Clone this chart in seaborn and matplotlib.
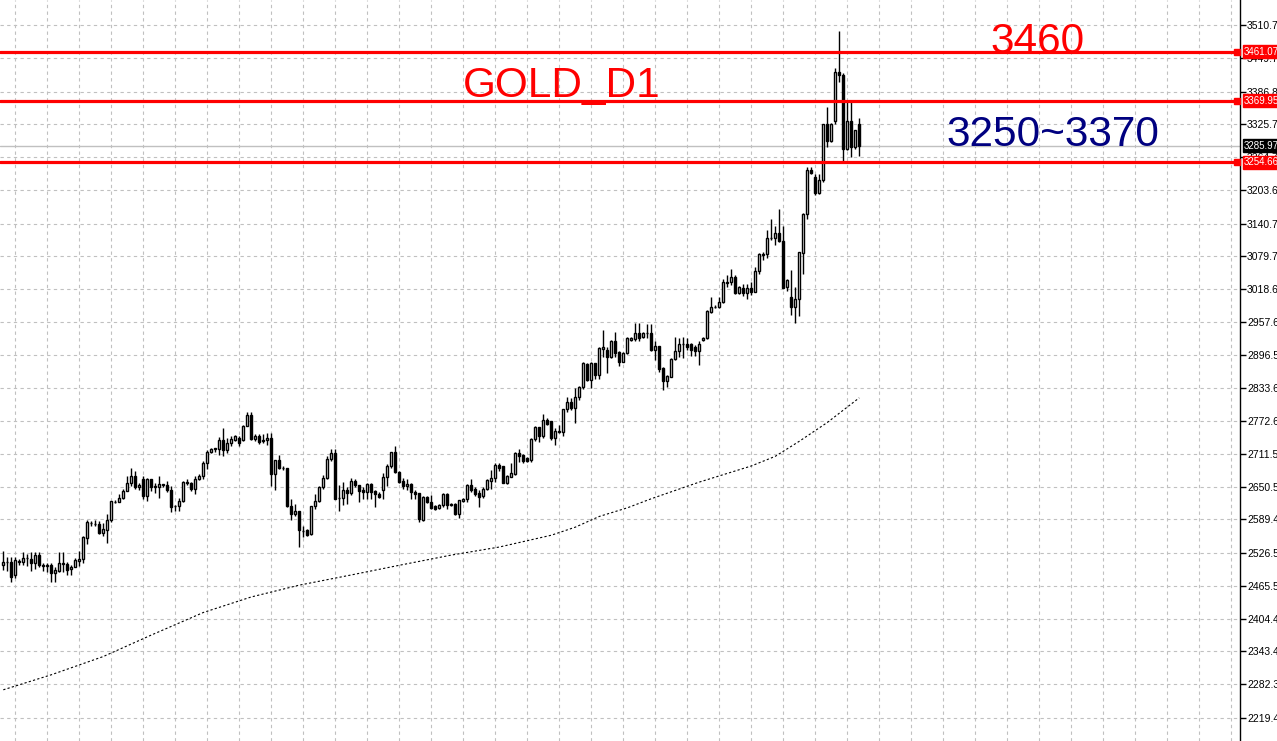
import numpy as np
import pandas as pd
import matplotlib
matplotlib.use("Agg")
import matplotlib.pyplot as plt
import matplotlib.transforms as mtransforms
import seaborn as sns

# ---------------------------------------------------------
# Daily gold candles (oldest first)
# ---------------------------------------------------------
opens = [2505, 2510, 2510, 2485, 2511, 2511, 2517, 2515, 2509, 2523,
         2505, 2503, 2505, 2489, 2494, 2507, 2507, 2498, 2500, 2512,
         2515, 2554, 2583, 2581, 2581, 2565, 2570, 2589, 2622, 2622,
         2630, 2642, 2657, 2671, 2650, 2664, 2633, 2664, 2650, 2650,
         2654, 2653, 2645, 2614, 2614, 2624, 2660, 2657, 2646, 2665,
         2670, 2694, 2716, 2721, 2721, 2738, 2719, 2731, 2738, 2741,
         2738, 2764, 2784, 2739, 2745, 2735, 2737, 2741, 2675, 2700,
         2686, 2686, 2615, 2599, 2605, 2567, 2570, 2563, 2614, 2624,
         2649, 2667, 2702, 2713, 2629, 2630, 2644, 2638, 2661, 2654,
         2644, 2640, 2656, 2642, 2637, 2645, 2669, 2689, 2715, 2678,
         2661, 2651, 2655, 2641, 2638, 2589, 2632, 2621, 2614, 2610,
         2616, 2637, 2617, 2618, 2600, 2624, 2627, 2654, 2646, 2639,
         2633, 2647, 2661, 2666, 2691, 2689, 2658, 2669, 2674, 2714,
         2710, 2703, 2700, 2739, 2761, 2744, 2775, 2772, 2741, 2753,
         2753, 2795, 2809, 2798, 2817, 2836, 2879, 2849, 2880, 2859,
         2907, 2906, 2893, 2921, 2902, 2883, 2900, 2923, 2925, 2937,
         2929, 2936, 2936, 2905, 2913, 2871, 2848, 2855, 2888, 2904,
         2916, 2916, 2916, 2910, 2903, 2924, 2927, 2976, 2985, 2985,
         2995, 3030, 3031, 3041, 3011, 3020, 3012, 3020, 3014, 3053,
         3083, 3084, 3113, 3113, 3124, 3109, 3022, 3003, 2986, 3001,
         3085, 3158, 3240, 3228, 3197, 3221, 3326, 3295, 3331, 3424,
         3418, 3279, 3331, 3283, 3326]
highs = [2531, 2519, 2519, 2519, 2515, 2528, 2525, 2529, 2529, 2529,
         2509, 2508, 2509, 2501, 2528, 2529, 2510, 2504, 2517, 2531,
         2559, 2589, 2587, 2589, 2587, 2583, 2599, 2624, 2626, 2636,
         2647, 2671, 2685, 2679, 2657, 2670, 2667, 2665, 2657, 2670,
         2656, 2661, 2651, 2617, 2630, 2661, 2664, 2659, 2670, 2675,
         2698, 2719, 2723, 2723, 2743, 2760, 2741, 2744, 2747, 2745,
         2766, 2790, 2790, 2748, 2748, 2749, 2750, 2750, 2701, 2710,
         2689, 2686, 2628, 2618, 2605, 2578, 2571, 2615, 2636, 2652,
         2673, 2707, 2721, 2721, 2654, 2659, 2650, 2667, 2664, 2654,
         2650, 2657, 2657, 2645, 2640, 2676, 2692, 2716, 2727, 2680,
         2667, 2664, 2658, 2645, 2639, 2633, 2633, 2635, 2616, 2618,
         2639, 2639, 2620, 2620, 2626, 2629, 2656, 2664, 2650, 2644,
         2649, 2665, 2681, 2695, 2695, 2689, 2672, 2695, 2716, 2721,
         2712, 2705, 2741, 2763, 2762, 2786, 2778, 2772, 2759, 2765,
         2796, 2817, 2815, 2834, 2838, 2883, 2881, 2883, 2881, 2910,
         2942, 2910, 2923, 2939, 2904, 2902, 2929, 2929, 2955, 2955,
         2939, 2954, 2954, 2921, 2913, 2873, 2859, 2890, 2929, 2927,
         2929, 2927, 2918, 2914, 2921, 2929, 2979, 3004, 2989, 3004,
         3037, 3045, 3057, 3045, 3024, 3028, 3029, 3031, 3059, 3085,
         3087, 3129, 3149, 3136, 3167, 3136, 3037, 3054, 3022, 3088,
         3160, 3246, 3247, 3233, 3233, 3327, 3357, 3329, 3430, 3500,
         3421, 3368, 3368, 3316, 3337]
lows = [2496, 2494, 2473, 2480, 2504, 2505, 2503, 2494, 2498, 2500,
        2494, 2491, 2473, 2473, 2492, 2492, 2485, 2486, 2500, 2503,
        2509, 2544, 2578, 2577, 2563, 2559, 2546, 2585, 2620, 2621,
        2627, 2642, 2651, 2647, 2645, 2627, 2624, 2642, 2639, 2630,
        2650, 2640, 2604, 2605, 2605, 2621, 2654, 2642, 2636, 2662,
        2665, 2683, 2713, 2716, 2710, 2707, 2713, 2726, 2735, 2726,
        2736, 2763, 2738, 2735, 2730, 2731, 2729, 2651, 2644, 2683,
        2681, 2612, 2589, 2596, 2538, 2556, 2559, 2561, 2609, 2621,
        2646, 2665, 2698, 2627, 2605, 2617, 2619, 2635, 2650, 2621,
        2628, 2628, 2628, 2613, 2629, 2628, 2652, 2686, 2676, 2658,
        2646, 2645, 2628, 2628, 2584, 2587, 2620, 2609, 2607, 2608,
        2613, 2609, 2614, 2597, 2592, 2622, 2622, 2640, 2634, 2613,
        2630, 2644, 2647, 2659, 2680, 2658, 2655, 2668, 2672, 2697,
        2694, 2697, 2697, 2736, 2734, 2741, 2765, 2737, 2728, 2750,
        2744, 2790, 2793, 2770, 2812, 2832, 2848, 2834, 2852, 2852,
        2893, 2863, 2890, 2893, 2875, 2882, 2898, 2921, 2922, 2922,
        2927, 2927, 2904, 2887, 2865, 2831, 2837, 2854, 2887, 2893,
        2890, 2905, 2894, 2894, 2877, 2922, 2926, 2975, 2983, 2983,
        2993, 3022, 3026, 3010, 3010, 3006, 3001, 3008, 3014, 3047,
        3072, 3076, 3111, 3101, 3107, 3020, 3016, 2970, 2956, 2968,
        3047, 3150, 3233, 3194, 3196, 3219, 3283, 3293, 3326, 3405,
        3258, 3278, 3264, 3279, 3267]
closes = [2511, 2511, 2482, 2513, 2512, 2517, 2518, 2509, 2523, 2504,
          2503, 2505, 2489, 2496, 2508, 2508, 2496, 2500, 2513, 2515,
          2556, 2584, 2582, 2581, 2565, 2571, 2589, 2624, 2622, 2630,
          2642, 2657, 2671, 2650, 2654, 2633, 2664, 2650, 2651, 2656,
          2654, 2644, 2613, 2614, 2624, 2659, 2657, 2646, 2665, 2671,
          2695, 2716, 2721, 2721, 2738, 2719, 2731, 2739, 2744, 2732,
          2764, 2784, 2739, 2745, 2733, 2737, 2741, 2675, 2700, 2686,
          2685, 2615, 2599, 2606, 2570, 2568, 2561, 2614, 2624, 2649,
          2667, 2702, 2713, 2627, 2630, 2644, 2638, 2661, 2653, 2642,
          2640, 2656, 2640, 2636, 2632, 2669, 2689, 2715, 2678, 2659,
          2651, 2655, 2640, 2636, 2590, 2632, 2621, 2610, 2609, 2616,
          2637, 2617, 2618, 2599, 2625, 2627, 2654, 2644, 2637, 2632,
          2647, 2663, 2666, 2691, 2686, 2658, 2670, 2676, 2714, 2708,
          2698, 2699, 2739, 2761, 2744, 2775, 2768, 2741, 2755, 2753,
          2795, 2809, 2798, 2817, 2836, 2880, 2849, 2880, 2859, 2908,
          2910, 2893, 2921, 2900, 2882, 2900, 2927, 2927, 2937, 2927,
          2936, 2936, 2905, 2913, 2869, 2848, 2857, 2888, 2904, 2916,
          2916, 2910, 2905, 2904, 2917, 2927, 2977, 2985, 2986, 2995,
          3031, 3031, 3041, 3011, 3022, 3012, 3020, 3014, 3053, 3084,
          3084, 3113, 3113, 3124, 3109, 3020, 3036, 2986, 3001, 3087,
          3159, 3240, 3235, 3197, 3222, 3326, 3295, 3327, 3424, 3418,
          3279, 3331, 3283, 3315, 3286]

# 200-day moving average, read at a few candles
ma_idx = [0, 12, 25, 37, 50, 62, 74, 87, 99, 112, 124, 137, 143, 149, 156,
          162, 174, 187, 193, 199, 206, 210, 214]
ma_vals = [2272, 2300, 2334, 2374, 2416, 2445, 2467, 2486, 2504, 2523, 2538,
           2560, 2575, 2595, 2611, 2628, 2659, 2689, 2707, 2735, 2770, 2793,
           2816]

price_ticks = [3510.75, 3449.70, 3386.80, 3325.75, 3264.70, 3203.65, 3140.75,
               3079.70, 3018.65, 2957.60, 2896.55, 2833.65, 2772.60, 2711.55,
               2650.50, 2589.45, 2526.55, 2465.50, 2404.45, 2343.40, 2282.35,
               2219.45]
levels = [3461.07, 3369.95, 3254.66]
last_price = 3285.97

df = pd.DataFrame({"open": opens, "high": highs, "low": lows, "close": closes})
df["idx"] = np.arange(len(df))
up = df["close"] >= df["open"]

# ---------------------------------------------------------
# Plot
# ---------------------------------------------------------
sns.set_style("white")
plt.rcParams["font.family"] = ["Liberation Sans", "DejaVu Sans"]

fig = plt.figure(figsize=(12.77, 7.41), dpi=100)
ax = fig.add_axes([0, 0, 1240 / 1277, 1])

# wicks + bodies
ax.vlines(df["idx"], df["low"], df["high"], color="black", linewidth=1, zorder=2)
body = (df["close"] - df["open"]).abs().clip(lower=0.8)
bottom = df[["open", "close"]].min(axis=1)
ax.bar(df["idx"], body, bottom=bottom, width=0.55,
       color=np.where(up, "white", "black"), edgecolor="black",
       linewidth=1, zorder=3)

# moving average (dotted)
sns.lineplot(x=ma_idx, y=ma_vals, ax=ax, color="black", linewidth=0.8,
             linestyle=(0, (2, 2)), zorder=2)

# current price + support / resistance levels
ax.axhline(last_price, color="#c0c0c0", linewidth=1, zorder=1)
for lv in levels:
    ax.axhline(lv, color="red", linewidth=2.3, zorder=4)

trans = mtransforms.blended_transform_factory(ax.transAxes, ax.transData)
for lv in levels:
    ax.plot([0.9972], [lv], marker="s", markersize=4, color="red",
            transform=trans, clip_on=False, zorder=5)
    ax.annotate(f"{lv:.2f}", xy=(1, lv), xycoords=trans, xytext=(4, 0),
                textcoords="offset pixels", ha="left", va="center",
                fontsize=7, color="white", annotation_clip=False, zorder=6,
                bbox=dict(boxstyle="square,pad=0.15", fc="red", ec="red"))
ax.annotate(f"{last_price:.2f}", xy=(1, last_price), xycoords=trans,
            xytext=(4, 0), textcoords="offset pixels", ha="left", va="center",
            fontsize=7, color="white", annotation_clip=False, zorder=6,
            bbox=dict(boxstyle="square,pad=0.15", fc="black", ec="black"))

# annotations
ax.text(0.4528, 0.8691, "GOLD_D1", transform=ax.transAxes, ha="center",
        va="baseline", fontsize=30.5, color="red")
ax.text(0.8367, 0.9285, "3460", transform=ax.transAxes, ha="center",
        va="baseline", fontsize=30.5, color="red")
ax.text(0.8488, 0.8030, "3250~3370", transform=ax.transAxes, ha="center",
        va="baseline", fontsize=30.5, color="#000080")

# axes / grid
ax.set_xlim(-0.825, 309.2)
ax.set_ylim(2176.6, 3557.3)
ax.set_xticks(np.arange(3, 310, 8))
ax.set_yticks(price_ticks)
ax.set_yticklabels([f"{p:.2f}" for p in price_ticks])
ax.yaxis.tick_right()
ax.tick_params(axis="x", length=0, labelbottom=False)
ax.tick_params(axis="y", length=4, width=1, color="black", pad=1,
               labelsize=7.5, labelcolor="black")
ax.grid(True, color="#c0c0c0", linestyle=(0, (3, 3)), linewidth=0.8)
ax.set_axisbelow(True)
for side in ["left", "top", "bottom"]:
    ax.spines[side].set_visible(False)
ax.spines["right"].set_visible(True)
ax.spines["right"].set_color("black")
ax.spines["right"].set_linewidth(1)

fig.savefig("out.png", dpi=100)
plt.close(fig)
